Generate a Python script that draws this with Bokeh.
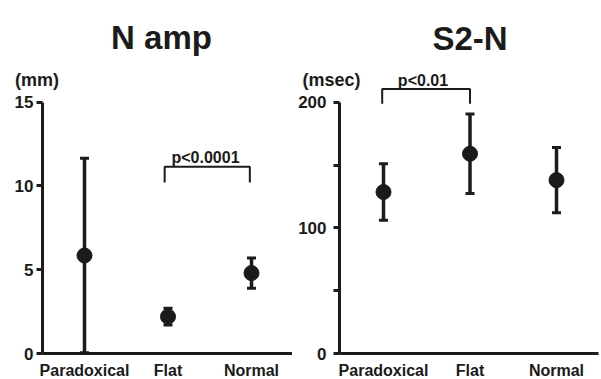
from bokeh.plotting import figure
from bokeh.layouts import row
from bokeh.models import Whisker, TeeHead, ColumnDataSource, FixedTicker, Label, Range1d
from bokeh.embed import file_html
from bokeh.resources import INLINE

# ---------------- data ----------------
categories = ["Paradoxical", "Flat", "Normal"]
cat_pos = [1, 2, 3]

n_amp_mean = [5.85, 2.2, 4.8]
n_amp_err = [5.8, 0.5, 0.9]
n_amp_ticks = [0, 5, 10, 15]

s2n_mean = [128.5, 159.0, 138.0]
s2n_err = [22.5, 31.7, 26.0]
s2n_ticks = [0, 50, 100, 150, 200]
s2n_tick_labels = {0: "0", 50: "", 100: "100", 150: "", 200: "200"}

# significance brackets (x path, y path) and texts
n_amp_bracket_x = [1.96, 1.96, 2.98, 2.98]
n_amp_bracket_y = [10.2, 11.15, 11.15, 10.2]
n_amp_p = "p<0.0001"
s2n_bracket_x = [0.985, 0.985, 2.0, 2.0]
s2n_bracket_y = [198.7, 210.6, 210.6, 198.7]
s2n_p = "p<0.01"

# ---------------- style / layout ----------------
INK = "#1b1b1b"
FONT = "Liberation Sans"
H = 379
ZERO_PX = 353       # page px of the value 0
TOPTICK_PX = 101.7  # page px of the top labelled tick


def make_panel(canvas_left_px, width, axis_left_px, axis_right_px,
               cat1_px, step_px, top_val, ticks, tick_labels, standoff):
    def to_x(px):
        return 1 + (px - cat1_px) / step_px

    def to_y(py):
        return (ZERO_PX - py) * top_val / (ZERO_PX - TOPTICK_PX)

    p = figure(width=width, height=H, output_backend="svg", toolbar_location=None,
               x_range=Range1d(to_x(canvas_left_px), to_x(canvas_left_px + width)),
               y_range=Range1d(to_y(H), to_y(0)),
               min_border_left=0, min_border_right=0,
               min_border_top=0, min_border_bottom=0)
    p.outline_line_color = None
    p.background_fill_color = "white"
    p.border_fill_color = "white"
    p.xgrid.visible = False
    p.ygrid.visible = False

    ya = p.yaxis[0]
    ya.fixed_location = to_x(axis_left_px)
    ya.ticker = FixedTicker(ticks=ticks)
    ya.major_label_overrides = tick_labels
    ya.bounds = (0, top_val)
    ya.axis_line_width = 3
    ya.axis_line_color = INK
    ya.major_tick_line_width = 3
    ya.major_tick_line_color = INK
    ya.major_tick_out = 6
    ya.major_tick_in = 0
    ya.minor_tick_line_color = None
    ya.major_label_standoff = standoff
    ya.major_label_text_font = FONT
    ya.major_label_text_font_style = "bold"
    ya.major_label_text_font_size = "17px"
    ya.major_label_text_color = INK

    xa = p.xaxis[0]
    xa.fixed_location = 0
    xa.ticker = FixedTicker(ticks=cat_pos)
    xa.bounds = (to_x(axis_left_px), to_x(axis_right_px))
    xa.major_label_overrides = {c: n for c, n in zip(cat_pos, categories)}
    xa.axis_line_width = 3
    xa.axis_line_color = INK
    xa.major_tick_line_color = None
    xa.minor_tick_line_color = None
    xa.major_tick_out = 0
    xa.major_tick_in = 0
    xa.major_label_standoff = 8
    xa.major_label_text_font = FONT
    xa.major_label_text_font_style = "bold"
    xa.major_label_text_font_size = "16px"
    xa.major_label_text_color = INK

    def label(text, px, py, size):
        p.add_layout(Label(x=to_x(px), y=to_y(py), text=text, text_align="center",
                           text_baseline="alphabetic", text_font=FONT,
                           text_font_style="bold", text_font_size=size,
                           text_color=INK))
    return p, label


# ---------------- left panel: N amp ----------------
p1, lab1 = make_panel(0, 292, 42, 292, 84, 83.5, 15, n_amp_ticks,
                      {t: str(t) for t in n_amp_ticks}, 3)
src1 = ColumnDataSource(dict(x=cat_pos, m=n_amp_mean,
                             up=[m + e for m, e in zip(n_amp_mean, n_amp_err)],
                             lo=[m - e for m, e in zip(n_amp_mean, n_amp_err)]))
p1.add_layout(Whisker(source=src1, base="x", upper="up", lower="lo", dimension="height",
                      line_width=3.5, line_color=INK,
                      upper_head=TeeHead(size=9, line_width=3, line_color=INK),
                      lower_head=TeeHead(size=9, line_width=3, line_color=INK)))
p1.scatter("x", "m", source=src1, size=15, color=INK)
p1.line(n_amp_bracket_x, n_amp_bracket_y, line_width=2, line_color=INK)
lab1("N amp", 161, 37, "33px")
lab1("(mm)", 36.5, 79, "18px")
lab1(n_amp_p, 205, 157, "16px")

# ---------------- right panel: S2-N ----------------
p2, lab2 = make_panel(292, 309, 339, 598, 383, 86.5, 200, s2n_ticks,
                      s2n_tick_labels, 7)
src2 = ColumnDataSource(dict(x=cat_pos, m=s2n_mean,
                             up=[m + e for m, e in zip(s2n_mean, s2n_err)],
                             lo=[m - e for m, e in zip(s2n_mean, s2n_err)]))
p2.add_layout(Whisker(source=src2, base="x", upper="up", lower="lo", dimension="height",
                      line_width=3.5, line_color=INK,
                      upper_head=TeeHead(size=9, line_width=3, line_color=INK),
                      lower_head=TeeHead(size=9, line_width=3, line_color=INK)))
p2.scatter("x", "m", source=src2, size=15, color=INK)
p2.line(s2n_bracket_x, s2n_bracket_y, line_width=2, line_color=INK)
lab2("S2-N", 469.5, 38, "33px")
lab2("(msec)", 331, 79, "18px")
lab2(s2n_p, 422.5, 80, "16px")

layout = row(p1, p2)
open("out.html", "w").write(file_html(layout, INLINE))
